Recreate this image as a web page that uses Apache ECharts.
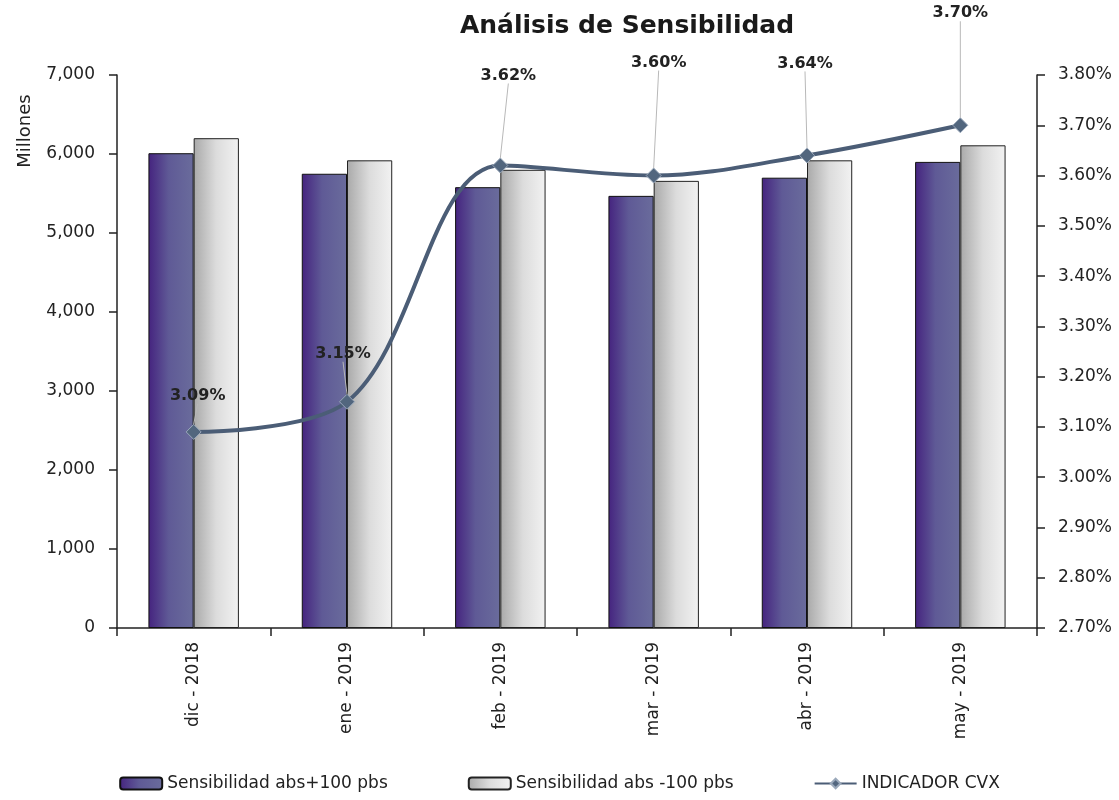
<!DOCTYPE html>
<html>
<head>
<meta charset="utf-8">
<script src="https://cdn.jsdelivr.net/npm/echarts@6/dist/echarts.min.js"></script>
<style>
  html, body { margin: 0; padding: 0; background: #fff; }
  #chart { width: 1119px; height: 800px; }
</style>
</head>
<body>
<div id="chart"></div>
<script>
// datos
const meses = ["dic - 2018", "ene - 2019", "feb - 2019", "mar - 2019", "abr - 2019", "may - 2019"];
const sensMas100 = [6010, 5750, 5580, 5470, 5700, 5900];
const sensMenos100 = [6200, 5920, 5800, 5660, 5920, 6110];
const indicadorCvx = [3.09, 3.15, 3.62, 3.60, 3.64, 3.70];

// desplazamiento de las etiquetas del indicador
const labelShift = [[4, -15], [-4, -27], [8, -69], [5, -92], [-2, -71], [0, -91]];

const fontFam = "DejaVu Sans";

const purpleGrad = new echarts.graphic.LinearGradient(0, 0, 1, 0, [
    { offset: 0, color: "#45237f" },
    { offset: 0.45, color: "#5f5a96" },
    { offset: 1, color: "#6a6c9c" }
]);
const greyGrad = new echarts.graphic.LinearGradient(0, 0, 1, 0, [
    { offset: 0, color: "#a9a9a9" },
    { offset: 0.5, color: "#dcdcdc" },
    { offset: 1, color: "#f2f2f2" }
]);

const axisText = { fontFamily: fontFam, fontSize: 17, color: "#222" };

const getOption = () => {
    return {
        animation: false,
        title: {
            text: "Análisis de Sensibilidad",
            left: 622,
            textAlign: "center",
            top: 9,
            textStyle: { fontFamily: fontFam, fontSize: 25, fontWeight: "bold", color: "#1a1a1a" }
        },
        legend: {
            bottom: 3,
            left: "center",
            itemWidth: 42,
            itemHeight: 12,
            itemGap: 80,
            textStyle: { fontFamily: fontFam, fontSize: 17, color: "#222" },
            data: ["Sensibilidad abs+100 pbs", "Sensibilidad abs -100 pbs", "INDICADOR CVX"]
        },
        grid: { left: 117, right: 82, top: 75, bottom: 172 },
        graphic: [
            {
                type: "text",
                x: 25,
                y: 131,
                rotation: Math.PI / 2,
                style: {
                    text: "Millones",
                    fontFamily: fontFam,
                    fontSize: 18,
                    fill: "#222",
                    align: "center",
                    verticalAlign: "middle"
                }
            }
        ],
        xAxis: [
            {
                type: "category",
                data: meses,
                axisLine: { lineStyle: { color: "#222", width: 1.5 } },
                axisTick: { show: true, length: 8, lineStyle: { color: "#222", width: 1.5 } },
                axisLabel: Object.assign({ rotate: 90, margin: 14 }, axisText)
            }
        ],
        yAxis: [
            {
                type: "value",
                min: 0,
                max: 7000,
                interval: 1000,
                splitLine: { show: false },
                axisLine: { show: true, lineStyle: { color: "#222", width: 1.5 } },
                axisTick: { show: true, length: 8, lineStyle: { color: "#222", width: 1.5 } },
                axisLabel: Object.assign({
                    margin: 22,
                    formatter: v => v.toLocaleString("en-US")
                }, axisText)
            },
            {
                type: "value",
                min: 2.7,
                max: 3.8,
                interval: 0.1,
                splitLine: { show: false },
                axisLine: { show: true, lineStyle: { color: "#222", width: 1.5 } },
                axisTick: { show: true, length: 8, lineStyle: { color: "#222", width: 1.5 } },
                axisLabel: Object.assign({
                    margin: 21,
                    formatter: v => v.toFixed(2) + "%"
                }, axisText)
            }
        ],
        series: [
            {
                name: "Sensibilidad abs+100 pbs",
                type: "bar",
                data: sensMas100,
                barGap: "0%",
                barCategoryGap: "41%",
                itemStyle: { color: purpleGrad, borderColor: "#111", borderWidth: 1 }
            },
            {
                name: "Sensibilidad abs -100 pbs",
                type: "bar",
                data: sensMenos100,
                itemStyle: { color: greyGrad, borderColor: "#222", borderWidth: 1 }
            },
            {
                name: "INDICADOR CVX",
                type: "line",
                yAxisIndex: 1,
                data: indicadorCvx,
                smooth: 0.35,
                symbol: "diamond",
                symbolSize: 15,
                lineStyle: { color: "#4b5d76", width: 4 },
                itemStyle: { color: "#52667e", borderColor: "#9aa8ba", borderWidth: 1 },
                label: {
                    show: true,
                    position: "top",
                    distance: 5,
                    fontFamily: fontFam,
                    fontSize: 16,
                    fontWeight: "bold",
                    color: "#222",
                    formatter: p => p.value.toFixed(2) + "%"
                },
                labelLine: { show: true, lineStyle: { color: "#b8b8b8", width: 1 } },
                labelLayout: p => ({ dx: labelShift[p.dataIndex][0], dy: labelShift[p.dataIndex][1] }),
                z: 5
            }
        ]
    };
};

document.addEventListener("DOMContentLoaded", function() {
    const chart = echarts.init(document.getElementById("chart"));
    chart.setOption(getOption());
});
</script>
</body>
</html>
